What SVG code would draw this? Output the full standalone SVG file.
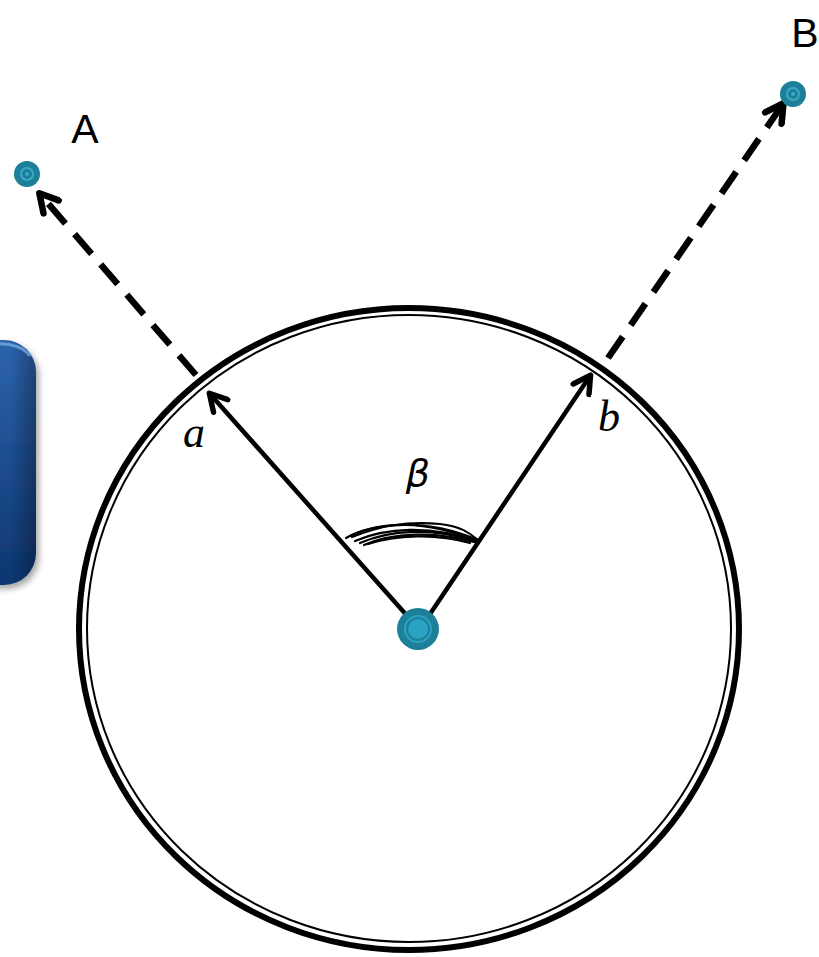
<svg xmlns="http://www.w3.org/2000/svg" width="819" height="957" viewBox="0 0 819 957">
<style>
.lbl{font-family:"Liberation Sans",Arial,sans-serif;font-size:41px;fill:#000}
.var{font-family:"Liberation Serif","Times New Roman",serif;font-style:italic;font-size:44px;fill:#000}
.solid{stroke:#000;stroke-width:4.5;fill:none;stroke-linecap:round}
.dash{stroke:#000;stroke-width:6.5;fill:none;stroke-dasharray:26 14}
.scr{stroke:#000;stroke-width:2.2;fill:none;stroke-linecap:round}
</style>
<defs>
<marker id="ah" viewBox="0 0 24 24" refX="19" refY="12" markerWidth="24" markerHeight="24" markerUnits="userSpaceOnUse" orient="auto">
<polyline points="3,2.5 20,12 3,21.5" fill="none" stroke="#000" stroke-width="5.5" stroke-linecap="round" stroke-linejoin="round"/>
</marker>
<marker id="ahd" viewBox="0 0 26 26" refX="21" refY="13" markerWidth="26" markerHeight="26" markerUnits="userSpaceOnUse" orient="auto">
<polyline points="4,3 22,13 4,23" fill="none" stroke="#000" stroke-width="6.5" stroke-linecap="round" stroke-linejoin="round"/>
</marker>
<linearGradient id="bg" x1="0" y1="0" x2="0" y2="1">
<stop offset="0" stop-color="#2d64ad"/>
<stop offset="1" stop-color="#0d3670"/>
</linearGradient>
<linearGradient id="edge" x1="0" y1="0" x2="1" y2="0">
<stop offset="0.7" stop-color="#000" stop-opacity="0"/>
<stop offset="1" stop-color="#000" stop-opacity="0.3"/>
</linearGradient>
<filter id="sh" x="-20%" y="-10%" width="150%" height="130%">
<feDropShadow dx="3" dy="4" stdDeviation="3" flood-color="#000" flood-opacity="0.35"/>
</filter>
<g id="dot">
<circle r="13" fill="#1d7f98"/>
<circle r="6" fill="none" stroke="#39a9c7" stroke-width="2"/>
<circle r="2" fill="#39a9c7"/>
</g>
</defs>
<rect width="819" height="957" fill="#fff"/>

<g id="panel">
<rect x="-50" y="340" width="86" height="245" rx="32" fill="url(#bg)" filter="url(#sh)"/>
<rect x="-50" y="340" width="86" height="245" rx="32" fill="url(#edge)"/>
<path d="M -10 344 Q 20 342 30 356" stroke="#7fb3e8" stroke-width="3" fill="none" opacity="0.7"/>
</g>

<g id="circle">
<ellipse cx="409" cy="629" rx="330" ry="321" fill="none" stroke="#000" stroke-width="6"/>
<ellipse cx="409" cy="628.5" rx="322" ry="313.5" fill="none" stroke="#000" stroke-width="2"/>
</g>

<g id="connectors">
<line class="solid" x1="410" y1="619" x2="210" y2="394" marker-end="url(#ah)"/>
<line class="solid" x1="428" y1="617" x2="590" y2="376" marker-end="url(#ah)"/>
<line class="dash" x1="196" y1="375" x2="40" y2="194" marker-end="url(#ahd)"/>
<line class="dash" x1="608" y1="358" x2="783" y2="104" marker-end="url(#ahd)"/>
</g>

<g id="angle">
<path class="scr" d="M 346 538 C 370 524 420 516 478 540"/>
<path class="scr" d="M 350 536 C 380 522 425 519 476 541"/>
<path class="scr" d="M 355 541 C 385 528 430 524 478 542"/>
<path class="scr" d="M 360 543 C 390 530 432 527 474 541"/>
<path class="scr" d="M 364 545 C 392 533 434 530 478 543"/>
<path class="scr" d="M 368 544 C 395 535 436 533 470 543"/>
<path class="scr" d="M 352 537 C 380 526 405 521 440 524 C 460 526 470 533 478 540"/>
<text x="418" y="486" text-anchor="middle" font-family="'DejaVu Sans',sans-serif" font-style="italic" font-size="38">β</text>
</g>

<g id="nodeA">
<use href="#dot" x="27" y="174"/>
<text class="lbl" x="85" y="143" text-anchor="middle">A</text>
</g>
<g id="nodeB">
<use href="#dot" x="793" y="94"/>
<text class="lbl" x="805" y="47" text-anchor="middle">B</text>
</g>
<g id="center">
<circle cx="418" cy="629" r="21" fill="#1d7f98"/>
<circle cx="418" cy="629" r="14" fill="#2ba2c1"/>
<circle cx="418" cy="629" r="11" fill="none" stroke="#1d7f98" stroke-width="2"/>
</g>
<g id="labels">
<text class="var" x="194" y="447" text-anchor="middle">a</text>
<text class="var" x="609" y="431" text-anchor="middle">b</text>
</g>
</svg>
